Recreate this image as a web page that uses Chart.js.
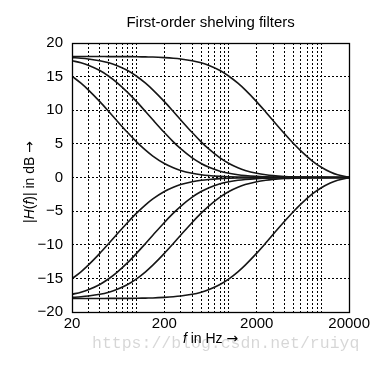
<!DOCTYPE html>
<html>
<head>
<meta charset="utf-8">
<script src="https://cdn.jsdelivr.net/npm/chart.js@4.4.1/dist/chart.umd.min.js"></script>
<style>
  html, body { margin: 0; padding: 0; background: #fff; }
  canvas { display: block; }
</style>
</head>
<body>
<canvas id="shelvingChart" width="373" height="366"></canvas>
<script>
const freqs = [20, 25, 30, 40, 50, 60, 80, 100, 125, 150, 200, 250, 300, 400, 500, 600, 800,
               1000, 1250, 1500, 2000, 2500, 3000, 4000, 5000, 6000, 8000, 10000, 12500, 15000, 20000];

// boost curves (dB)
const boost20 = [15.06, 14.02, 13.03, 11.28, 9.81, 8.58, 6.68, 5.30, 4.07, 3.19, 2.08, 1.45, 1.05, 0.63, 0.41, 0.29, 0.17,
                 0.11, 0.07, 0.05, 0.03, 0.02, 0.01, 0.01, 0, 0, 0, 0, 0, 0, 0];
const boost50 = [17.37, 17.05, 16.69, 15.90, 15.06, 14.22, 12.66, 11.28, 9.81, 8.58, 6.68, 5.30, 4.28, 2.91, 2.08, 1.55, 0.94,
                 0.63, 0.41, 0.29, 0.17, 0.11, 0.07, 0.04, 0.03, 0.02, 0.01, 0, 0, 0, 0];
const boost100 = [17.83, 17.74, 17.63, 17.37, 17.05, 16.69, 15.90, 15.06, 14.02, 13.03, 11.28, 9.81, 8.58, 6.68, 5.30, 4.28, 2.91,
                  2.08, 1.45, 1.05, 0.62, 0.40, 0.28, 0.16, 0.10, 0.07, 0.03, 0.02, 0.01, 0, 0];
const boost1000 = [18.0, 18.0, 17.99, 17.99, 17.98, 17.98, 17.97, 17.96, 17.93, 17.91, 17.83, 17.74, 17.63, 17.37, 17.05, 16.69, 15.90,
                   15.06, 14.02, 13.02, 11.25, 9.75, 8.48, 6.51, 5.06, 3.96, 2.45, 1.53, 0.82, 0.40, 0.03];

// cut curves (dB)
const cut20 = [-15.06, -14.02, -13.03, -11.28, -9.81, -8.58, -6.68, -5.30, -4.07, -3.19, -2.08, -1.45, -1.05, -0.63, -0.41, -0.29, -0.17,
               -0.11, -0.07, -0.05, -0.03, -0.02, -0.01, -0.01, 0, 0, 0, 0, 0, 0, 0];
const cut50 = [-17.37, -17.05, -16.69, -15.90, -15.06, -14.22, -12.66, -11.28, -9.81, -8.58, -6.68, -5.30, -4.28, -2.91, -2.08, -1.55, -0.94,
               -0.63, -0.41, -0.29, -0.17, -0.11, -0.07, -0.04, -0.03, -0.02, -0.01, 0, 0, 0, 0];
const cut100 = [-17.83, -17.74, -17.63, -17.37, -17.05, -16.69, -15.90, -15.06, -14.02, -13.03, -11.28, -9.81, -8.58, -6.68, -5.30, -4.28, -2.91,
                -2.08, -1.45, -1.05, -0.62, -0.40, -0.28, -0.16, -0.10, -0.07, -0.03, -0.02, -0.01, 0, 0];
const cut1000 = [-18.0, -18.0, -17.99, -17.99, -17.98, -17.98, -17.97, -17.96, -17.93, -17.91, -17.83, -17.74, -17.63, -17.37, -17.05, -16.69, -15.90,
                 -15.06, -14.02, -13.02, -11.25, -9.75, -8.48, -6.51, -5.06, -3.96, -2.45, -1.53, -0.82, -0.40, -0.03];

// x grid lines and the few labelled ticks
const gridFreqs = [20, 30, 40, 50, 60, 70, 80, 90, 100, 200, 300, 400, 500, 600, 700, 800, 900,
                   1000, 2000, 3000, 4000, 5000, 6000, 7000, 8000, 9000, 10000, 20000];
const freqLabels = [20, 200, 2000, 20000];

const FONT = '"Liberation Sans", Arial, Helvetica, sans-serif';
const ARROW_FONT = '"DejaVu Sans", sans-serif';

// draws text made of [string, style] parts, centred on (0,0) of the current transform
// style: 'i' italic, 'a' arrow font, anything else normal
function partFont(style, size) {
    if (style === 'i') return 'italic ' + size + 'px ' + FONT;
    if (style === 'a') return size + 'px ' + ARROW_FONT;
    return size + 'px ' + FONT;
}

function drawParts(ctx, parts, size) {
    let total = 0;
    const widths = parts.map(p => {
        ctx.font = partFont(p[1], size);
        const w = ctx.measureText(p[0]).width;
        total += w;
        return w;
    });
    let x = -total / 2;
    parts.forEach((p, i) => {
        ctx.font = partFont(p[1], size);
        ctx.fillText(p[0], x, 0);
        x += widths[i];
    });
}

const frameAndTitles = {
    id: 'frameAndTitles',
    afterDraw(chart) {
        const ctx = chart.ctx;
        const a = chart.chartArea;
        const midX = (a.left + a.right) / 2;
        ctx.save();
        // plot frame
        ctx.strokeStyle = '#000';
        ctx.lineWidth = 1.3;
        ctx.strokeRect(Math.round(a.left) + 0.5, Math.round(a.top) + 0.5,
                       Math.round(a.right - a.left), Math.round(a.bottom - a.top));

        // watermark
        ctx.fillStyle = 'rgba(0,0,0,0.16)';
        ctx.font = '16.5px "Liberation Mono", "DejaVu Sans Mono", monospace';
        ctx.textAlign = 'left';
        ctx.textBaseline = 'middle';
        ctx.fillText('https://blog.csdn.net/ruiyq', 92, 344);

        ctx.fillStyle = '#000';
        ctx.textBaseline = 'middle';

        // chart title
        ctx.save();
        ctx.translate(midX, 23);
        drawParts(ctx, [['First-order shelving filters', 'n']], 15);
        ctx.restore();

        // x title
        ctx.save();
        ctx.translate(midX, 339);
        drawParts(ctx, [['f', 'i'], [' in Hz ', 'n'], ['\u2192', 'a']], 14);
        ctx.restore();

        // y title
        ctx.save();
        ctx.translate(30, 182);
        ctx.rotate(-Math.PI / 2);
        drawParts(ctx, [['|', 'n'], ['H', 'i'], ['(', 'n'], ['f', 'i'], [')| in dB ', 'n'], ['\u2192', 'a']], 14);
        ctx.restore();

        ctx.restore();
    }
};

const series = [boost20, boost50, boost100, boost1000, cut20, cut50, cut100, cut1000];

new Chart(document.getElementById('shelvingChart'), {
    type: 'line',
    data: {
        datasets: series.map(g => ({
            data: freqs.map((f, i) => ({ x: f, y: g[i] })),
            borderColor: '#161616',
            borderWidth: 1.6,
            pointRadius: 0,
            fill: false,
            cubicInterpolationMode: 'monotone'
        }))
    },
    options: {
        responsive: false,
        animation: false,
        devicePixelRatio: 1,
        layout: { padding: { left: 0, right: 23, top: 43, bottom: 0 } },
        scales: {
            x: {
                type: 'logarithmic',
                min: 20,
                max: 20000,
                afterBuildTicks: function(scale) {
                    scale.ticks = gridFreqs.map(v => ({ value: v }));
                },
                afterFit: function(scale) { scale.height = 54; },
                ticks: {
                    autoSkip: false,
                    maxRotation: 0,
                    padding: 3,
                    color: '#000',
                    font: { family: FONT, size: 15 },
                    callback: function(value) {
                        return freqLabels.includes(value) ? String(value) : '';
                    }
                },
                grid: { color: '#000', lineWidth: 1, drawTicks: false },
                border: { display: false, dash: [2, 2] }
            },
            y: {
                min: -20,
                max: 20,
                afterFit: function(scale) { scale.width = 72; },
                ticks: {
                    stepSize: 5,
                    padding: 9,
                    color: '#000',
                    font: { family: FONT, size: 15 },
                    callback: function(value) {
                        return value < 0 ? '\u2212' + Math.abs(value) : String(value);
                    }
                },
                grid: { color: '#000', lineWidth: 1, drawTicks: false },
                border: { display: false, dash: [2, 2] }
            }
        },
        plugins: {
            legend: { display: false },
            tooltip: { enabled: false },
            title: { display: false }
        }
    },
    plugins: [frameAndTitles]
});
</script>
</body>
</html>
